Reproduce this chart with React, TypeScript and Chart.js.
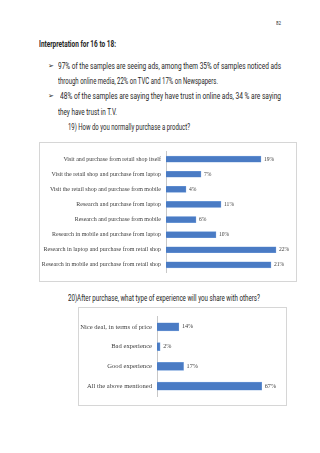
import React, { useEffect, useLayoutEffect, useRef } from "react";
import { Chart, registerables } from "chart.js";

Chart.register(...registerables);

const purchaseLabels = [
  "Visit and purchase from retail shop itself",
  "Visit the retail shop and purchase from laptop",
  "Visit the retail shop and purchase from mobile",
  "Research and purchase from laptop",
  "Research and purchase from mobile",
  "Research in mobile and purchase from laptop",
  "Research in laptop and purchase from retail shop",
  "Research in mobile and purchase from retail shop",
];
const purchaseValues = [19, 7, 4, 11, 6, 10, 22, 21];

const experienceLabels = [
  "Nice deal, in terms of price",
  "Bad experience",
  "Good experience",
  "All the above mentioned",
];
const experienceValues = [14, 2, 17, 67];

const BAR = "#4a7bc4";
const BAR_EDGE = "#6f9bd8";
const LABEL = "#404040";
const SERIF = "'Liberation Serif', 'DejaVu Serif', serif";
const BODY = "Roboto, 'Liberation Sans', sans-serif";

type FitProps = {
  x: number;
  y: number;
  w: number;
  size: number;
  bold?: boolean;
  color?: string;
  font?: string;
  children: React.ReactNode;
};

function FitText({ x, y, w, size, bold, color, font, children }: FitProps) {
  const ref = useRef<HTMLSpanElement>(null);
  useLayoutEffect(() => {
    const el = ref.current;
    if (!el) return;
    el.style.transform = "none";
    const natural = el.getBoundingClientRect().width;
    if (natural > 0) el.style.transform = `scaleX(${w / natural})`;
  });
  return (
    <span
      ref={ref}
      style={{
        position: "absolute",
        left: x,
        top: y - size * 0.6,
        fontSize: size,
        lineHeight: `${size * 1.2}px`,
        whiteSpace: "nowrap",
        fontFamily: font || BODY,
        fontWeight: bold ? 700 : 400,
        color: color || "#262626",
        transformOrigin: "left center",
        display: "inline-block",
      }}
    >
      {children}
    </span>
  );
}

type BarChartProps = {
  labels: string[];
  values: number[];
  max: number;
  left: number;
  top: number;
  width: number;
  height: number;
  axisX: number;
  padTop: number;
  padBottom: number;
  padRight: number;
  fontSize: number;
  thickness: number;
};

function BarChart(p: BarChartProps) {
  const ref = useRef<HTMLCanvasElement>(null);
  useEffect(() => {
    const canvas = ref.current;
    if (!canvas) return;
    const valueLabels = {
      id: "valueLabels",
      afterDatasetsDraw(chart: any) {
        const ctx = chart.ctx;
        const meta = chart.getDatasetMeta(0);
        ctx.save();
        ctx.fillStyle = LABEL;
        ctx.font = `${p.fontSize - 0.4}px ${SERIF}`;
        ctx.textBaseline = "middle";
        ctx.textAlign = "left";
        meta.data.forEach((el: any, i: number) => {
          ctx.fillText(`${p.values[i]}%`, el.x + 3, el.y);
        });
        ctx.restore();
      },
    };
    const chart = new Chart(canvas, {
      type: "bar",
      data: {
        labels: p.labels,
        datasets: [
          {
            data: p.values,
            backgroundColor: BAR,
            borderColor: BAR_EDGE,
            borderWidth: 0.6,
            barThickness: p.thickness,
          },
        ],
      },
      options: {
        indexAxis: "y",
        responsive: false,
        animation: false,
        devicePixelRatio: 1,
        layout: {
          padding: { left: 0, right: p.padRight, top: p.padTop, bottom: p.padBottom },
        },
        plugins: {
          legend: { display: false },
          tooltip: { enabled: false },
          title: { display: false },
        },
        scales: {
          x: { display: false, min: 0, max: p.max },
          y: {
            grid: { display: false, drawTicks: false },
            border: { display: true, color: "#c8c8c8", width: 1 },
            ticks: {
              color: LABEL,
              padding: 5,
              font: { family: SERIF, size: p.fontSize },
              autoSkip: false,
            },
            afterFit(scale: any) {
              scale.width = p.axisX;
            },
          },
        },
      },
      plugins: [valueLabels],
    });
    return () => chart.destroy();
  }, []);
  return (
    <div
      style={{
        position: "absolute",
        left: p.left,
        top: p.top,
        width: p.width,
        height: p.height,
        border: "1px solid #d6d6d6",
        boxSizing: "border-box",
        background: "#fff",
      }}
    >
      <canvas
        ref={ref}
        width={p.width - 2}
        height={p.height - 2}
        style={{ display: "block", width: p.width - 2, height: p.height - 2 }}
      />
    </div>
  );
}

const bulletStyle: React.CSSProperties = {
  position: "absolute",
  left: 48,
  fontSize: 7,
  lineHeight: "10px",
  fontFamily: "'DejaVu Sans', sans-serif",
  color: "#262626",
};

export default function App() {
  return (
    <div
      style={{
        position: "absolute",
        left: 0,
        top: 0,
        width: 320,
        height: 453,
        background: "#fff",
        overflow: "hidden",
      }}
    >
      <FitText x={276} y={23} w={5} size={6}>82</FitText>
      <FitText x={39} y={44} w={77} size={9.5} bold>
        Interpretation for 16 to 18:
      </FitText>
      <span style={{ ...bulletStyle, top: 61 }}>➢</span>
      <FitText x={58} y={66} w={223} size={9}>
        97% of the samples are seeing ads, among them 35% of samples noticed ads
      </FitText>
      <FitText x={58} y={81} w={160} size={9}>
        through online media, 22% on TVC and 17% on Newspapers.
      </FitText>
      <span style={{ ...bulletStyle, top: 91 }}>➢</span>
      <FitText x={60} y={96} w={221} size={9}>
        48% of the samples are saying they have trust in online ads, 34 % are saying
      </FitText>
      <FitText x={58} y={112} w={59} size={9}>
        they have trust in T.V.
      </FitText>
      <FitText x={68} y={127} w={122} size={9}>
        19) How do you normally purchase a product?
      </FitText>

      <BarChart
        labels={purchaseLabels}
        values={purchaseValues}
        max={25}
        left={39}
        top={142}
        width={258}
        height={140}
        axisX={126}
        padTop={4}
        padBottom={4.4}
        padRight={5}
        fontSize={6}
        thickness={6}
      />

      <FitText x={68} y={298} w={192} size={9}>
        20)After purchase, what type of experience will you share with others?
      </FitText>

      <BarChart
        labels={experienceLabels}
        values={experienceValues}
        max={80}
        left={78}
        top={307}
        width={209}
        height={99}
        axisX={78}
        padTop={5.2}
        padBottom={5}
        padRight={4}
        fontSize={6.6}
        thickness={8}
      />
    </div>
  );
}
